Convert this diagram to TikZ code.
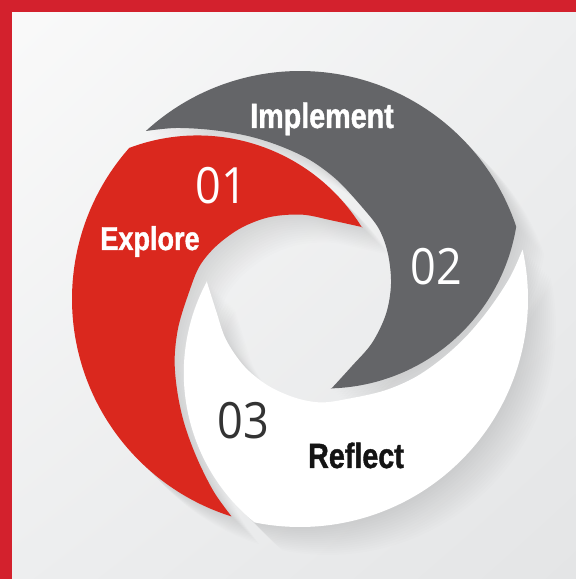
\documentclass[tikz,border=0pt]{standalone}
\usepackage{xcolor}
\usepackage{fontspec}
\setmainfont{Liberation Sans}
\newfontfamily\wordfont[FakeStretch=0.82,BoldFeatures={FakeBold=1.2}]{Liberation Sans}
\newfontfamily\numfont[FakeStretch=0.9]{Open Sans}
\usetikzlibrary{positioning,shadings}

\definecolor{framered}{RGB}{211,33,45}
\definecolor{explorered}{RGB}{218,40,30}
\definecolor{implementgray}{RGB}{100,101,104}
\definecolor{reflectblack}{RGB}{20,20,20}
\definecolor{bgul}{RGB}{250,250,250}
\definecolor{bgur}{RGB}{238,239,240}
\definecolor{bgll}{RGB}{237,238,239}
\definecolor{bglr}{RGB}{228,229,230}

% one piece of the ring, round the origin (the 02 piece)
\newcommand{\swoosh}{(132.5:228) arc[start angle=132.5,end angle=18.5,radius=228]
  arc[start angle=-9.3,end angle=-88.5,radius=193]
  -- plot[smooth,tension=0.55] coordinates {(31,-90) (52,-67) (72,-44) (86,-15) (91,15) (88,45) (79,70) (62,92) (37,119) (10,139) (-20,153) (-52,163) (-88,169) (-124,171) (-153.4,168.1)} -- cycle}

\begin{document}
\begin{tikzpicture}[x=1pt,y=1pt,
    word/.style={inner sep=0pt,anchor=base,font=\wordfont\bfseries\fontsize{35}{35}\selectfont},
    num/.style={inner sep=0pt,anchor=base,font=\numfont\fontsize{50}{50}\selectfont}]

    % Background and frame
    \useasboundingbox (0,0) rectangle (576,579);
    \shade[upper left=bgul,upper right=bgur,lower left=bgll,lower right=bglr] (0,0) rectangle (576,579);
    \fill[framered] (0,567) rectangle (576,579);
    \fill[framered] (0,0) rectangle (12,579);

    % Long shadows
    \foreach \a in {0,120,240}{
        \foreach \s in {1,...,14}
            \fill[black,opacity=0.008,shift={(300+2*\s,280-2*\s)},rotate=\a] \swoosh;
    }

    % The ring
    \foreach \a/\c in {0/implementgray,120/explorered,240/white}
        \fill[\c,shift={(300,280)},rotate=\a] \swoosh;

    % Labels
    \node [word,text=white] at (322,451) (implement) {Implement};
    \node [word,text=white,font=\wordfont\bfseries\fontsize{33}{33}\selectfont] at (150,329) (explore) {Explore};
    \node [word,text=reflectblack] at (356,111) (reflect) {Reflect};

    \node [num,text=white] at (221,375) (n01) {01};
    \node [num,text=white] at (436,294) (n02) {02};
    \node [num,text=black!80] at (243,140) (n03) {03};

\end{tikzpicture}
\end{document}
